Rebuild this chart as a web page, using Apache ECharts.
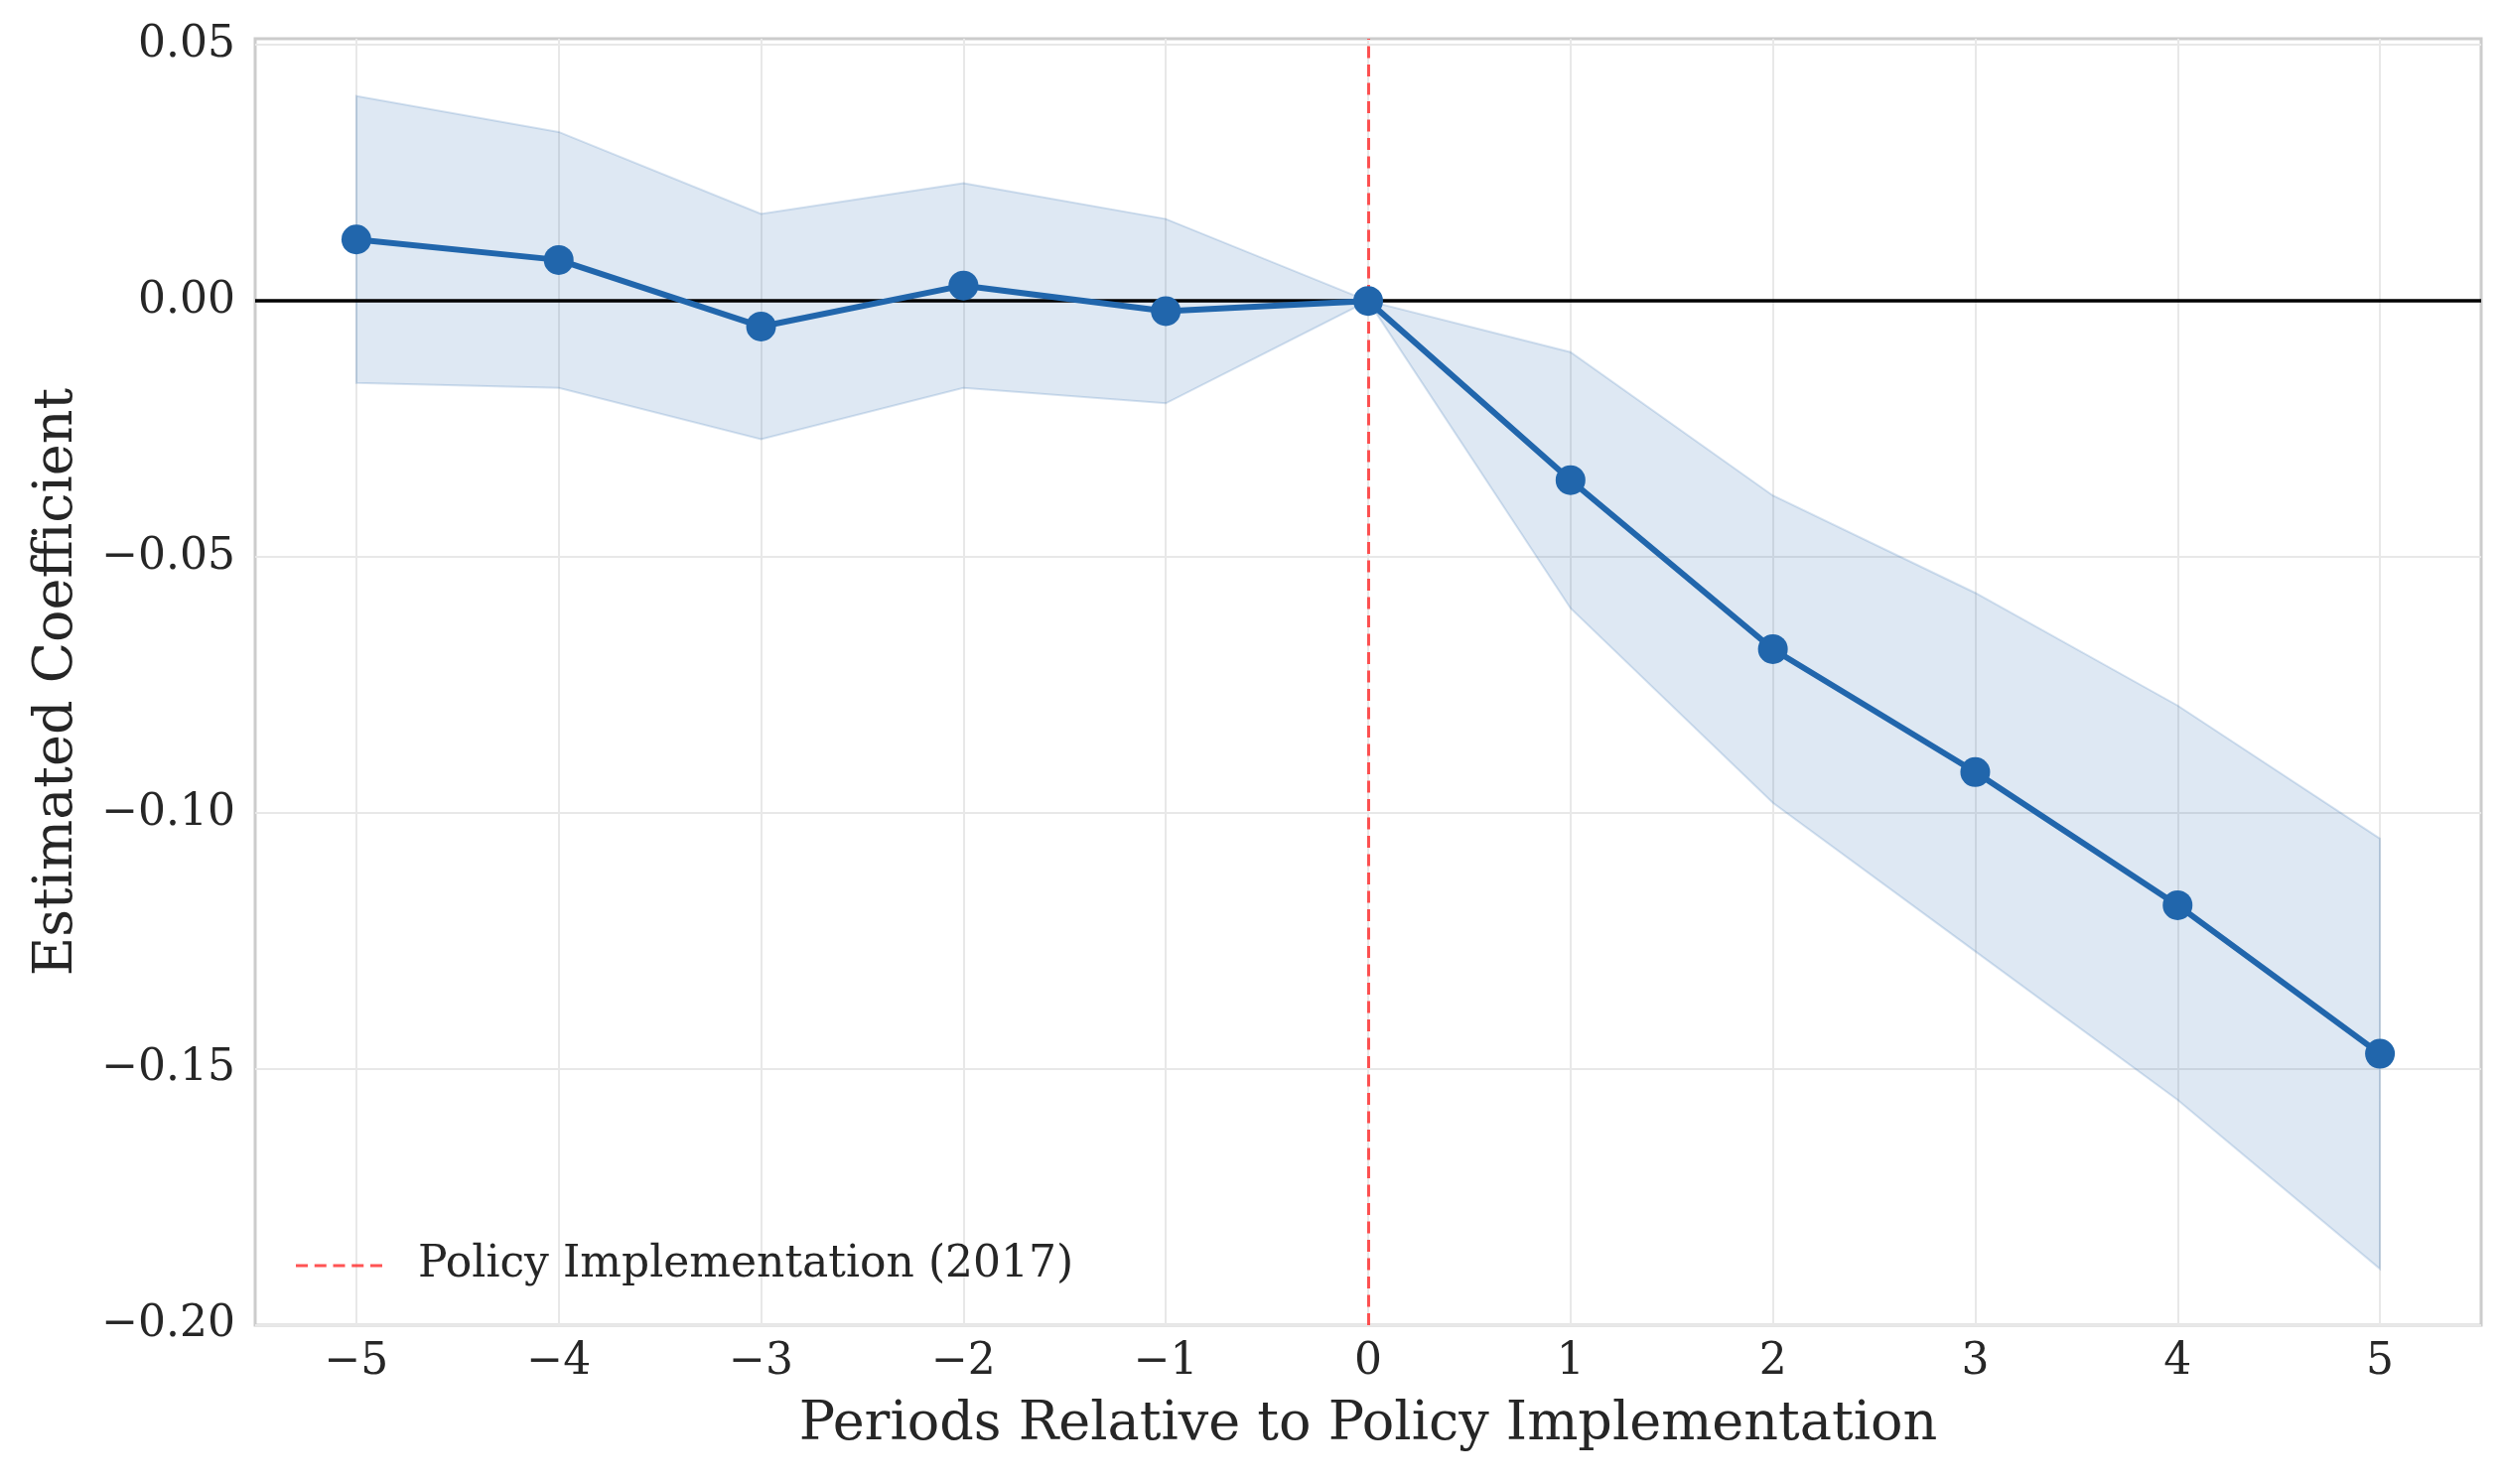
<!DOCTYPE html>
<html><head><meta charset="utf-8">
<script src="https://cdn.jsdelivr.net/npm/echarts@6/dist/echarts.min.js"></script>
<style>html,body{margin:0;padding:0;background:#fff}#c{width:2520px;height:1495px}</style>
</head><body><div id="c"></div>
<script>
const periods = [-5, -4, -3, -2, -1, 0, 1, 2, 3, 4, 5];
const coef    = [0.012, 0.008, -0.005, 0.003, -0.002, 0, -0.035, -0.068, -0.092, -0.118, -0.147];
const ciLower = [-0.016, -0.017, -0.027, -0.017, -0.020, 0, -0.060, -0.098, -0.127, -0.156, -0.189];
const ciUpper = [0.040, 0.033, 0.017, 0.023, 0.016, 0, -0.010, -0.038, -0.057, -0.079, -0.105];
const yTicks = [-0.20, -0.15, -0.10, -0.05, 0.00, 0.05];
const xTicks = [-5, -4, -3, -2, -1, 0, 1, 2, 3, 4, 5];
const policyLabel = 'Policy Implementation (2017)';
const xTitle = 'Periods Relative to Policy Implementation';
const yTitle = 'Estimated Coefficient';

const FONT = 'DejaVu Serif';
const TXT = '#262626';
const BLUE = '#2166ac';
const RED = 'rgba(255,40,40,0.8)';
const fmtSigned = (v, d) => (v < -1e-9 ? '\u2212' : '') + Math.abs(v).toFixed(d);

const chart = echarts.init(document.getElementById('c'), null, {renderer: 'canvas'});
const dashStyle = {color: RED, type: [12, 6.5], width: 3};

// confidence band polygon built through the axes' coordinate mapping
function renderBand(params, api) {
  if (params.dataIndex !== 0) return null;
  const pts = [];
  for (let i = 0; i < periods.length; i++) pts.push(api.coord([periods[i], ciUpper[i]]));
  for (let i = periods.length - 1; i >= 0; i--) pts.push(api.coord([periods[i], ciLower[i]]));
  return {
    type: 'polygon',
    shape: {points: pts},
    style: {fill: 'rgba(33,102,172,0.15)', stroke: 'rgba(33,102,172,0.18)', lineWidth: 2}
  };
}

chart.setOption({
  animation: false,
  backgroundColor: '#fff',
  grid: {left: 257, right: 21, top: 39, bottom: 160, show: true, borderColor: '#cccccc', borderWidth: 3, backgroundColor: 'transparent'},
  legend: {
    data: [{name: policyLabel,
      icon: 'path://M0,0h12v3h-12z M18.75,0h12v3h-12z M37.5,0h12v3h-12z M56.25,0h12v3h-12z M75,0h12v3h-12z',
      itemStyle: {color: RED}}],
    left: 293, top: 1248,
    itemWidth: 87, itemHeight: 3,
    textStyle: {fontFamily: FONT, fontSize: 44, color: TXT, padding: [0, 0, 0, 31]}
  },
  xAxis: {
    type: 'value', min: -5.5, max: 5.5,
    name: xTitle, nameLocation: 'middle', nameGap: 74,
    nameTextStyle: {fontFamily: FONT, fontSize: 54, color: TXT},
    axisLine: {show: false},
    axisTick: {show: false, customValues: xTicks},
    axisLabel: {customValues: xTicks, fontFamily: FONT, fontSize: 44, color: TXT, margin: 16,
      formatter: v => fmtSigned(v, 0)},
    splitLine: {show: true, lineStyle: {color: '#e8e8e8', width: 2}}
  },
  yAxis: {
    type: 'value', min: -0.2, max: 0.0512,
    name: yTitle, nameLocation: 'middle', nameGap: 172,
    nameTextStyle: {fontFamily: FONT, fontSize: 54, color: TXT},
    axisLine: {show: false},
    axisTick: {show: false, customValues: yTicks},
    axisLabel: {customValues: yTicks, fontFamily: FONT, fontSize: 44, color: TXT, margin: 20,
      formatter: v => fmtSigned(v, 2)},
    splitLine: {show: true, lineStyle: {color: '#e8e8e8', width: 2}}
  },
  series: [
    {
      name: 'ci', type: 'custom', silent: true, z: 1,
      data: periods.map((p, i) => [p, ciLower[i], ciUpper[i]]),
      encode: {x: 0, y: [1, 2]},
      renderItem: renderBand
    },
    {
      name: 'zero', type: 'line', data: [], silent: true, z: 3,
      markLine: {silent: true, symbol: 'none', label: {show: false},
        lineStyle: {color: '#000', width: 3.5, type: 'solid'},
        data: [{yAxis: 0}]}
    },
    {
      name: policyLabel, type: 'line', data: [], silent: true, z: 4,
      symbol: 'none',
      itemStyle: {color: RED},
      lineStyle: dashStyle,
      markLine: {silent: true, symbol: 'none', label: {show: false},
        lineStyle: dashStyle,
        data: [{xAxis: 0}]}
    },
    {
      name: 'coef', type: 'line', z: 5,
      data: periods.map((p, i) => [p, coef[i]]),
      symbol: 'circle', symbolSize: 30,
      itemStyle: {color: BLUE},
      lineStyle: {color: BLUE, width: 6}
    }
  ]
});
</script></body></html>
